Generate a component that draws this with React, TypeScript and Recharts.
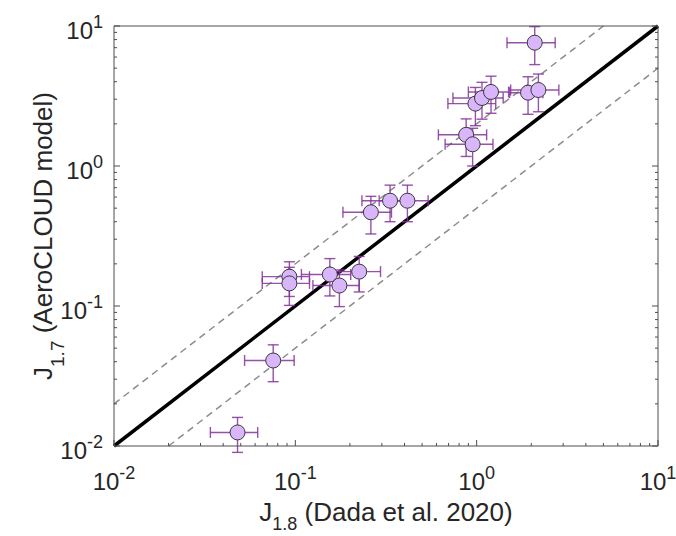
import { ScatterChart, Scatter, XAxis, YAxis, ErrorBar, ReferenceLine } from "recharts";

// J1.8 (Dada et al. 2020) vs J1.7 (AeroCLOUD model)
const jDada = [0.048, 0.0755, 0.0927, 0.0927, 0.155, 0.175, 0.225, 0.261, 0.333, 0.415, 0.875, 0.95, 0.984, 1.07, 1.2, 1.92, 2.19, 2.09];
const jModel = [0.0125, 0.0408, 0.162, 0.145, 0.168, 0.14, 0.176, 0.467, 0.565, 0.565, 1.67, 1.43, 2.79, 3.06, 3.38, 3.34, 3.49, 7.6];
const errDada = [0.014, 0.023, 0.027, 0.027, 0.047, 0.05, 0.07, 0.078, 0.1, 0.125, 0.26, 0.28, 0.29, 0.33, 0.3, 0.4, 0.65, 0.62];
const errModel = [0.0035, 0.012, 0.045, 0.044, 0.05, 0.041, 0.05, 0.14, 0.165, 0.165, 0.5, 0.43, 0.85, 0.9, 1.0, 1.0, 1.05, 2.3];

const domain: [number, number] = [0.01, 10];
const decades = [0.01, 0.1, 1, 10];
const tickValues = [
  0.01, 0.02, 0.03, 0.04, 0.05, 0.06, 0.07, 0.08, 0.09,
  0.1, 0.2, 0.3, 0.4, 0.5, 0.6, 0.7, 0.8, 0.9,
  1, 2, 3, 4, 5, 6, 7, 8, 9, 10,
];

// 1:1 line and factor-of-two band
const oneToOne = [{ x: 0.01, y: 0.01 }, { x: 10, y: 10 }];
const twiceLine = [{ x: 0.01, y: 0.02 }, { x: 5, y: 10 }];
const halfLine = [{ x: 0.02, y: 0.01 }, { x: 10, y: 5 }];

const data = jDada.map((x, i) => ({ x, y: jModel[i], ex: errDada[i], ey: errModel[i] }));

const FONT = "'Liberation Sans', Arial, Helvetica, sans-serif";
const TXT = "#262626";
const AXIS = "#4d4d4d";
const MAJOR = 6;
const MINOR = 3;

const isDecade = (v: number) => decades.some((d) => Math.abs(d - v) < 1e-9);
const expOf = (v: number) => String(Math.round(Math.log10(v)));

const PowLabel = ({ x, y, v, anchor }: any) => (
  <text x={x} y={y} textAnchor={anchor} fontFamily={FONT} fill={TXT} fontSize={24}>
    <tspan>10</tspan>
    <tspan dy={-11} fontSize={18}>{expOf(v)}</tspan>
  </text>
);

const BottomTick = ({ x, y, payload }: any) => {
  const major = isDecade(payload.value);
  return (
    <g>
      <line x1={x} x2={x} y1={y} y2={y - (major ? MAJOR : MINOR)} stroke={AXIS} />
      {major && <PowLabel x={x} y={y + 44} v={payload.value} anchor="middle" />}
    </g>
  );
};

const TopTick = ({ x, y, payload }: any) => {
  const major = isDecade(payload.value);
  return <line x1={x} x2={x} y1={y} y2={y + (major ? MAJOR : MINOR)} stroke={AXIS} />;
};

const LeftTick = ({ x, y, payload }: any) => {
  const major = isDecade(payload.value);
  return (
    <g>
      <line x1={x} x2={x + (major ? MAJOR : MINOR)} y1={y} y2={y} stroke={AXIS} />
      {major && <PowLabel x={x - 11} y={y + 13} v={payload.value} anchor="end" />}
    </g>
  );
};

const RightTick = ({ x, y, payload }: any) => {
  const major = isDecade(payload.value);
  return <line x1={x} x2={x - (major ? MAJOR : MINOR)} y1={y} y2={y} stroke={AXIS} />;
};

const XTitle = () => (
  <text x={386} y={521} textAnchor="middle" fontFamily={FONT} fill={TXT} fontSize={26}>
    <tspan>J</tspan>
    <tspan dy={9} fontSize={18}>1.8</tspan>
    <tspan dy={-9}> (Dada et al. 2020)</tspan>
  </text>
);

const YTitle = () => (
  <text x={52} y={236} transform="rotate(-90, 52, 236)" textAnchor="middle" fontFamily={FONT} fill={TXT} fontSize={26}>
    <tspan>J</tspan>
    <tspan dy={12} fontSize={19}>1.7</tspan>
    <tspan dy={-12}> (AeroCLOUD model)</tspan>
  </text>
);

const Dot = (props: any) => (
  <circle cx={props.cx} cy={props.cy} r={7.5} fill="#d9b5fb" stroke="#3a3a3a" strokeWidth={1} />
);

export default function App() {
  return (
    <div style={{ position: "absolute", left: 0, top: 0, width: 676, height: 536, background: "#fff" }}>
      <ScatterChart width={676} height={536} margin={{ top: 25, right: 17, bottom: 89, left: 113 }}>
        <XAxis
          type="number"
          dataKey="x"
          scale="log"
          domain={domain}
          allowDataOverflow
          ticks={tickValues}
          interval={0}
          height={1}
          tickSize={0}
          tickMargin={0}
          tickLine={false}
          tick={<BottomTick />}
          stroke={AXIS}
          label={<XTitle />}
        />
        <XAxis
          xAxisId="top"
          orientation="top"
          type="number"
          scale="log"
          domain={domain}
          allowDataOverflow
          ticks={tickValues}
          interval={0}
          height={1}
          tickSize={0}
          tickMargin={0}
          tickLine={false}
          tick={<TopTick />}
          stroke={AXIS}
        />
        <YAxis
          type="number"
          dataKey="y"
          scale="log"
          domain={domain}
          allowDataOverflow
          ticks={tickValues}
          interval={0}
          width={1}
          tickSize={0}
          tickMargin={0}
          tickLine={false}
          tick={<LeftTick />}
          stroke={AXIS}
          label={<YTitle />}
        />
        <YAxis
          yAxisId="right"
          orientation="right"
          type="number"
          scale="log"
          domain={domain}
          allowDataOverflow
          ticks={tickValues}
          interval={0}
          width={1}
          tickSize={0}
          tickMargin={0}
          tickLine={false}
          tick={<RightTick />}
          stroke={AXIS}
        />
        <ReferenceLine segment={twiceLine} stroke="#8c8c8c" strokeWidth={1.5} strokeDasharray="7 5" ifOverflow="visible" />
        <ReferenceLine segment={halfLine} stroke="#8c8c8c" strokeWidth={1.5} strokeDasharray="7 5" ifOverflow="visible" />
        <ReferenceLine segment={oneToOne} stroke="#000" strokeWidth={3.5} ifOverflow="visible" />
        <Scatter data={data} shape={<Dot />} isAnimationActive={false}>
          <ErrorBar dataKey="ex" direction="x" width={5.5} stroke="#86339a" strokeOpacity={0.85} strokeWidth={1.4} />
          <ErrorBar dataKey="ey" direction="y" width={5.5} stroke="#86339a" strokeOpacity={0.85} strokeWidth={1.4} />
        </Scatter>
      </ScatterChart>
    </div>
  );
}
